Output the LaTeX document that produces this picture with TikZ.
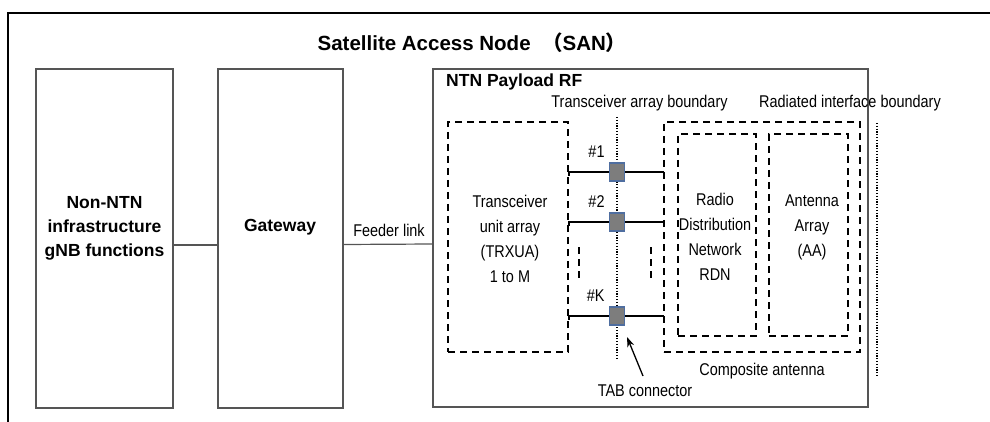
\documentclass[tikz,border=0pt]{standalone}
\usepackage{fontspec}
\setmainfont{Liberation Sans}
\newfontfamily\narrowsans[FakeStretch=0.85]{Liberation Sans}
\newfontfamily\cjk{Noto Sans CJK SC}
\usetikzlibrary{arrows.meta,positioning}
\definecolor{boxgray}{RGB}{85,85,85}
\definecolor{tabblue}{RGB}{79,110,160}
\definecolor{tabfill}{RGB}{125,125,125}

\tikzset{
  blockbox/.style={draw=boxgray,line width=1.2pt,inner sep=0pt},
  dashbox/.style={draw=black,line width=1.7pt,dash pattern=on 7pt off 5pt,inner sep=0pt},
  tabbox/.style={draw=tabblue,fill=tabfill,line width=1.5pt,minimum width=15pt,minimum height=18pt,inner sep=0pt},
  plain/.style={font=\narrowsans\fontsize{17}{25}\selectfont,align=center,inner sep=0pt},
  heavy/.style={font=\bfseries\fontsize{17.5}{24}\selectfont,align=center,inner sep=0pt},
  boundary/.style={line width=1.3pt,dash pattern=on 1.2pt off 1.6pt},
  link/.style={draw=boxgray,line width=1.2pt}
}

\begin{document}
\begin{tikzpicture}[x=1pt,y=-1pt]
\useasboundingbox (0,0) rectangle (990,422);
% outer SAN frame
\draw[line width=1.3pt] (990,13) -- (8,13) -- (8,422);
\node[heavy,font=\bfseries\fontsize{20.5}{24}\selectfont] (title) at (472,43)
  {Satellite Access Node\ \ {\cjk （}SAN{\cjk ）}};

% ground side
\node[blockbox,minimum width=137pt,minimum height=339pt] (nonntn) at (104.5,238.5) {};
\node[heavy] (nonntntxt) at (104.5,228) {Non-NTN\\infrastructure\\gNB functions};
\node[blockbox,minimum width=125pt,minimum height=339pt] (gw) at (280.5,238.5) {};
\node[heavy] (gwtxt) at (280,227) {Gateway};

% payload
\node[blockbox,minimum width=435pt,minimum height=338pt] (payload) at (650.5,238) {};
\node[heavy,anchor=west] (payloadtxt) at (446,82) {NTN Payload RF};

\draw[link] ([yshift=-6.5pt]nonntn.east) -- ([yshift=-6.5pt]gw.west);
\draw[link] ([yshift=-6pt]gw.east) -- ([yshift=-6pt]payload.west);
\node[plain] (feeder) at (389,230) {Feeder link};

\node[dashbox,minimum width=120pt,minimum height=230pt] (trxua) at (508,237) {};
\node[plain] (trxuatxt) at (510,238.5) {Transceiver\\unit array\\(TRXUA)\\1 to M};
\node[dashbox,minimum width=196pt,minimum height=230pt] (comp) at (762,237) {};
\node[dashbox,minimum width=78pt,minimum height=202pt] (rdn) at (717,235) {};
\node[plain] (rdntxt) at (715,236.5) {Radio\\Distribution\\Network\\RDN};
\node[dashbox,minimum width=79pt,minimum height=202pt] (aa) at (808.5,235) {};
\node[plain] (aatxt) at (812,227) {Antenna\\Array\\(AA)};
\node[plain,below=10pt of comp] (comptxt) {Composite antenna};

% boundaries
\node[plain] (trxbound) at (639.5,103) {Transceiver array boundary};
\node[plain] (radbound) at (850,103) {Radiated interface boundary};
\coordinate (tabtop) at (617,117);
\coordinate (tabbot) at (617,360);
\coordinate (radtop) at (877,123);
\coordinate (radbot) at (877,377);
\draw[boundary] (tabtop) -- (tabbot);
\draw[boundary] (radtop) -- (radbot);

% TAB connectors
\foreach \y/\n/\lbl in {172/1/\#1,222/2/\#2,316/k/\#K}{
  \coordinate (left\n) at (trxua.east |- 0,\y);
  \coordinate (right\n) at (comp.west |- 0,\y);
  \draw[line width=1.3pt] ([yshift=-4pt]left\n) -- (left\n) -- (right\n) -- ([yshift=-4pt]right\n);
  \node[tabbox] (tab\n) at (617,\y) {};
  \node[plain,above left=5pt and 4pt of tab\n] (lbl\n) {\lbl};
}
\draw[line width=1.7pt,dash pattern=on 7pt off 5pt] (579,247) -- (579,282);
\draw[line width=1.7pt,dash pattern=on 7pt off 5pt] (651,247) -- (651,282);

\node[plain] (tabtxt) at (645,391) {TAB connector};
\coordinate (tabtip) at (627,337);
\draw[line width=1.3pt,-{Stealth[length=10pt,width=7pt]}] (643,376) -- (tabtip);
\end{tikzpicture}
\end{document}
